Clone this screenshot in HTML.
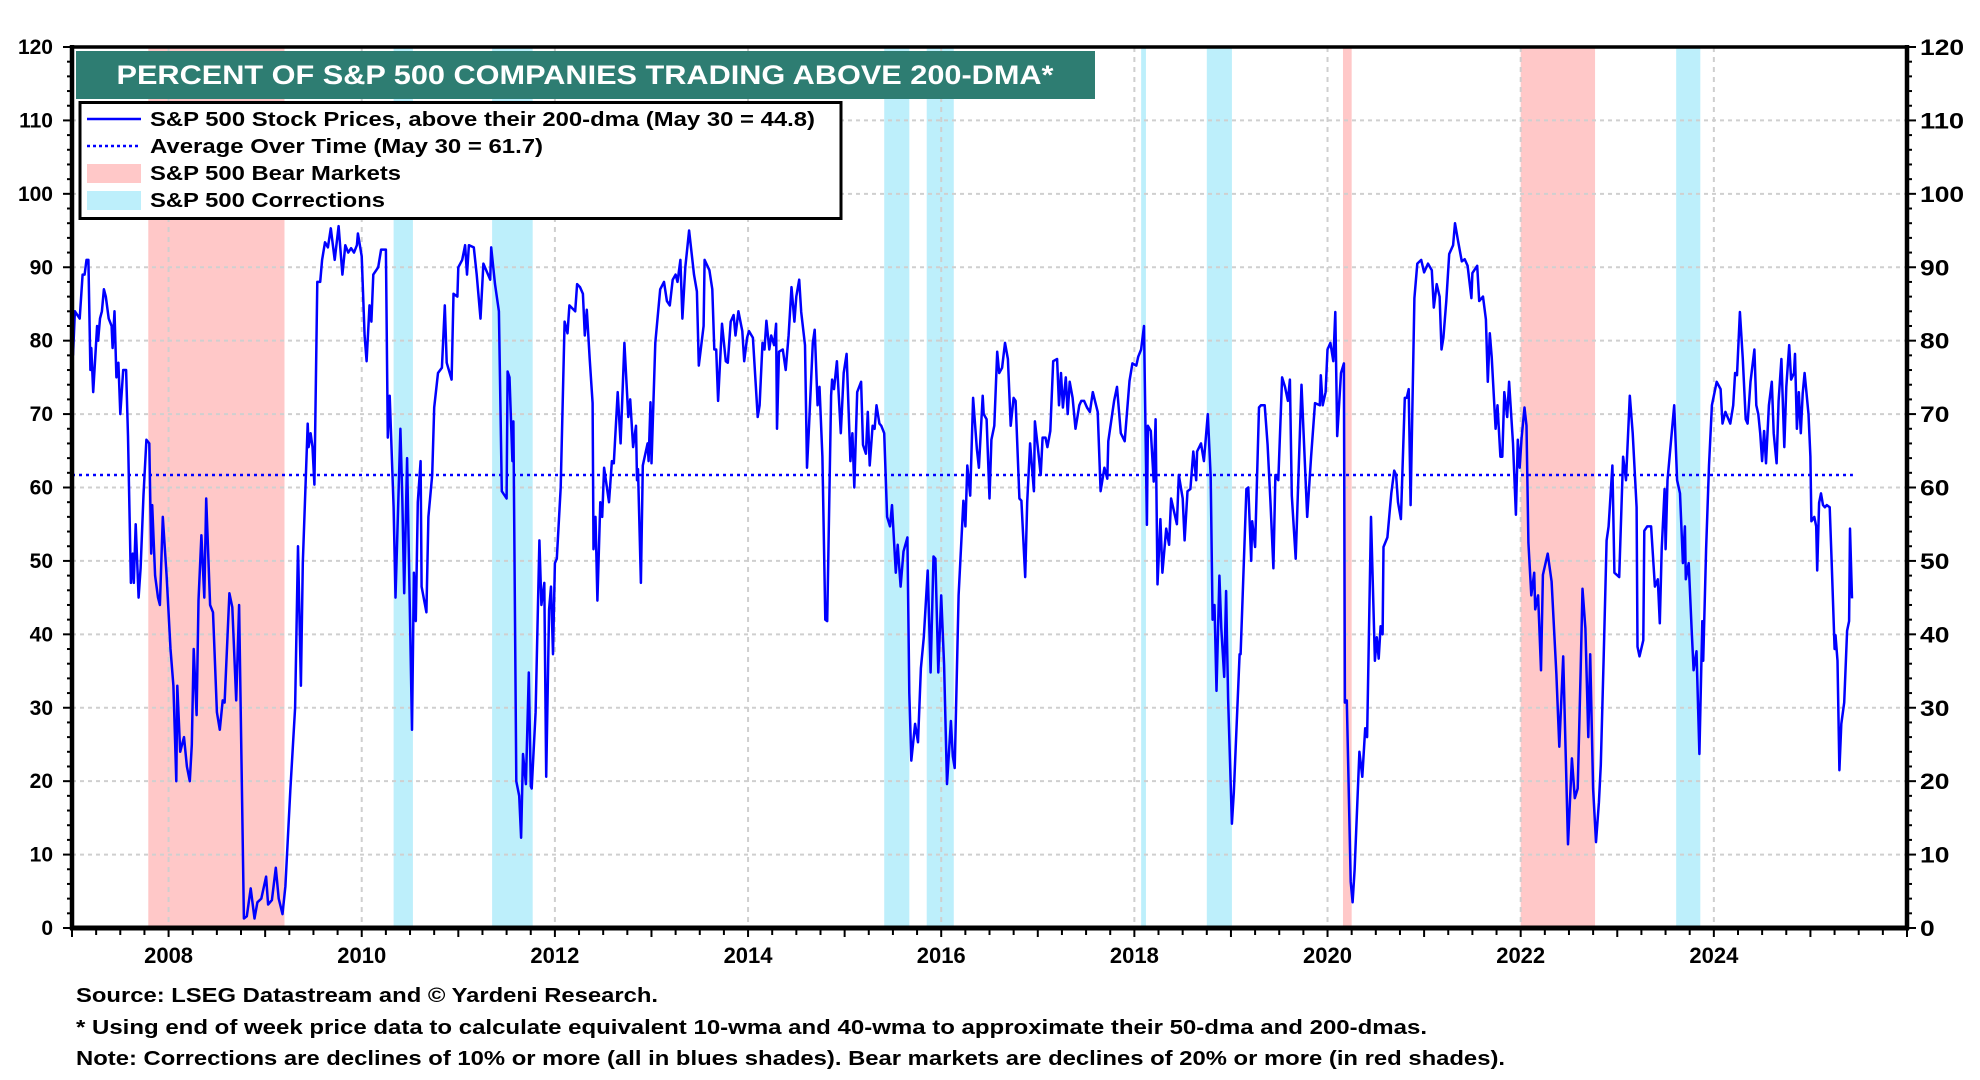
<!DOCTYPE html>
<html><head><meta charset="utf-8"><title>Percent of S&P 500 Companies Trading Above 200-DMA</title>
<style>html,body{margin:0;padding:0;background:#fff}svg{display:block}text{font-family:"Liberation Sans",Arial,sans-serif;font-weight:bold}</style>
</head><body>
<svg id="chart" width="1980" height="1080" viewBox="0 0 1980 1080" xmlns="http://www.w3.org/2000/svg">
<g id="shades"></g>
<g id="grid"></g>
<g id="avg"></g>
<g id="series"></g>
<g id="axes"></g>
<g>
<rect x="76" y="51" width="1019" height="48" fill="#2E7D72"/>
<text x="585" y="84" font-size="27" fill="#fff" text-anchor="middle" textLength="937" lengthAdjust="spacingAndGlyphs">PERCENT OF S&amp;P 500 COMPANIES TRADING ABOVE 200-DMA*</text>
</g>
<g>
<rect x="80" y="102.5" width="761" height="116" fill="#fff" stroke="#000" stroke-width="3"/>
<g><line x1="87" y1="119" x2="141" y2="119" stroke="#0000FF" stroke-width="2.5"/><text x="150" y="126" font-size="20" textLength="665" lengthAdjust="spacingAndGlyphs">S&amp;P 500 Stock Prices, above their 200-dma (May 30 = 44.8)</text></g>
<g><line x1="87" y1="146" x2="141" y2="146" stroke="#0000FF" stroke-width="2.5" stroke-dasharray="3,3"/><text x="150" y="153" font-size="20" textLength="393" lengthAdjust="spacingAndGlyphs">Average Over Time (May 30 = 61.7)</text></g>
<g><rect x="87" y="164" width="54" height="19" fill="#FFC8C8"/><text x="150" y="180" font-size="20" textLength="251" lengthAdjust="spacingAndGlyphs">S&amp;P 500 Bear Markets</text></g>
<g><rect x="87" y="191" width="54" height="19" fill="#BDEFFB"/><text x="150" y="207" font-size="20" textLength="235" lengthAdjust="spacingAndGlyphs">S&amp;P 500 Corrections</text></g>
</g>
<g>
<text x="76" y="1002" font-size="20" textLength="582" lengthAdjust="spacingAndGlyphs">Source: LSEG Datastream and © Yardeni Research.</text>
<text x="76" y="1034" font-size="20" textLength="1351" lengthAdjust="spacingAndGlyphs">* Using end of week price data to calculate equivalent 10-wma and 40-wma to approximate their 50-dma and 200-dmas.</text>
<text x="76" y="1065" font-size="20" textLength="1429" lengthAdjust="spacingAndGlyphs">Note: Corrections are declines of 10% or more (all in blues shades). Bear markets are declines of 20% or more (in red shades).</text>
</g>
</svg>
<script>
const yTicks=[0,10,20,30,40,50,60,70,80,90,100,110,120];
const xTickYears=[2008,2010,2012,2014,2016,2018,2020,2022,2024];
const bearStart=[2007.79,2020.16,2022.0];
const bearEnd=[2009.2,2020.25,2022.77];
const corrStart=[2010.33,2011.35,2015.41,2015.85,2018.07,2018.75,2023.61];
const corrEnd=[2010.53,2011.77,2015.67,2016.13,2018.12,2019.01,2023.86];
const avgValue=61.7;
const avgEndYear=2025.44;
const years=[2007.01,2007.03,2007.08,2007.11,2007.13,2007.15,2007.17,2007.19,2007.2,2007.22,2007.26,2007.27,2007.29,2007.31,2007.33,2007.35,2007.38,2007.41,2007.42,2007.44,2007.46,2007.48,2007.5,2007.53,2007.56,2007.58,2007.61,2007.63,2007.64,2007.66,2007.69,2007.71,2007.74,2007.77,2007.8,2007.82,2007.83,2007.86,2007.89,2007.91,2007.94,2007.98,2008.02,2008.05,2008.08,2008.09,2008.12,2008.16,2008.19,2008.22,2008.24,2008.26,2008.29,2008.31,2008.34,2008.37,2008.39,2008.41,2008.43,2008.46,2008.5,2008.53,2008.56,2008.58,2008.63,2008.66,2008.7,2008.73,2008.78,2008.81,2008.85,2008.89,2008.92,2008.96,2009.01,2009.03,2009.07,2009.11,2009.14,2009.18,2009.21,2009.26,2009.31,2009.34,2009.37,2009.39,2009.44,2009.45,2009.47,2009.49,2009.51,2009.54,2009.57,2009.59,2009.62,2009.65,2009.68,2009.72,2009.76,2009.8,2009.83,2009.86,2009.89,2009.92,2009.95,2009.96,2010.0,2010.03,2010.05,2010.08,2010.1,2010.12,2010.17,2010.2,2010.25,2010.27,2010.29,2010.33,2010.35,2010.4,2010.42,2010.44,2010.47,2010.52,2010.54,2010.56,2010.58,2010.61,2010.62,2010.67,2010.69,2010.73,2010.75,2010.79,2010.83,2010.86,2010.88,2010.93,2010.95,2010.99,2011.0,2011.04,2011.07,2011.09,2011.11,2011.16,2011.19,2011.23,2011.26,2011.33,2011.34,2011.38,2011.42,2011.45,2011.5,2011.51,2011.53,2011.56,2011.57,2011.6,2011.63,2011.65,2011.67,2011.7,2011.73,2011.75,2011.76,2011.8,2011.84,2011.86,2011.89,2011.91,2011.94,2011.96,2011.98,2012.0,2012.02,2012.06,2012.1,2012.13,2012.15,2012.21,2012.23,2012.26,2012.29,2012.31,2012.33,2012.36,2012.39,2012.4,2012.42,2012.44,2012.47,2012.49,2012.51,2012.56,2012.59,2012.61,2012.65,2012.68,2012.72,2012.76,2012.78,2012.81,2012.84,2012.85,2012.86,2012.89,2012.91,2012.96,2012.97,2012.99,2013.0,2013.04,2013.09,2013.13,2013.16,2013.19,2013.22,2013.25,2013.27,2013.3,2013.32,2013.35,2013.39,2013.44,2013.47,2013.49,2013.54,2013.55,2013.6,2013.63,2013.65,2013.67,2013.69,2013.73,2013.77,2013.79,2013.82,2013.85,2013.87,2013.9,2013.94,2013.96,2013.99,2014.01,2014.05,2014.1,2014.12,2014.15,2014.17,2014.19,2014.22,2014.24,2014.27,2014.29,2014.3,2014.32,2014.36,2014.39,2014.42,2014.45,2014.48,2014.5,2014.53,2014.55,2014.59,2014.61,2014.63,2014.67,2014.69,2014.72,2014.74,2014.77,2014.8,2014.82,2014.86,2014.87,2014.89,2014.92,2014.96,2014.99,2015.02,2015.06,2015.08,2015.1,2015.13,2015.17,2015.19,2015.22,2015.24,2015.26,2015.29,2015.31,2015.33,2015.36,2015.38,2015.41,2015.44,2015.47,2015.49,2015.53,2015.55,2015.58,2015.61,2015.65,2015.67,2015.69,2015.73,2015.76,2015.79,2015.82,2015.86,2015.89,2015.92,2015.94,2015.97,2016.0,2016.03,2016.06,2016.1,2016.12,2016.14,2016.18,2016.23,2016.25,2016.27,2016.3,2016.33,2016.37,2016.39,2016.43,2016.44,2016.47,2016.5,2016.52,2016.55,2016.58,2016.6,2016.63,2016.66,2016.69,2016.72,2016.75,2016.77,2016.81,2016.83,2016.87,2016.89,2016.92,2016.96,2016.97,2017.0,2017.03,2017.05,2017.08,2017.1,2017.13,2017.16,2017.2,2017.22,2017.24,2017.26,2017.29,2017.31,2017.33,2017.36,2017.39,2017.43,2017.45,2017.48,2017.51,2017.54,2017.57,2017.62,2017.65,2017.69,2017.72,2017.73,2017.77,2017.79,2017.82,2017.86,2017.9,2017.95,2017.98,2018.02,2018.04,2018.07,2018.1,2018.13,2018.14,2018.17,2018.2,2018.22,2018.24,2018.27,2018.29,2018.33,2018.36,2018.38,2018.44,2018.46,2018.5,2018.52,2018.55,2018.58,2018.61,2018.64,2018.65,2018.69,2018.72,2018.76,2018.79,2018.81,2018.83,2018.85,2018.88,2018.9,2018.93,2018.95,2018.97,2019.01,2019.03,2019.09,2019.1,2019.12,2019.16,2019.18,2019.21,2019.22,2019.25,2019.29,2019.31,2019.35,2019.38,2019.41,2019.44,2019.46,2019.49,2019.53,2019.56,2019.59,2019.61,2019.63,2019.67,2019.73,2019.79,2019.83,2019.87,2019.92,2019.93,2019.95,2019.98,2020.0,2020.03,2020.06,2020.08,2020.1,2020.14,2020.17,2020.18,2020.2,2020.24,2020.26,2020.28,2020.33,2020.36,2020.39,2020.41,2020.45,2020.49,2020.51,2020.53,2020.55,2020.57,2020.58,2020.62,2020.66,2020.69,2020.71,2020.73,2020.76,2020.8,2020.82,2020.84,2020.86,2020.9,2020.93,2020.97,2021.0,2021.04,2021.08,2021.1,2021.13,2021.16,2021.18,2021.2,2021.23,2021.26,2021.3,2021.32,2021.35,2021.39,2021.42,2021.45,2021.49,2021.5,2021.55,2021.57,2021.61,2021.64,2021.66,2021.68,2021.7,2021.74,2021.76,2021.79,2021.81,2021.83,2021.86,2021.88,2021.92,2021.95,2021.97,2021.99,2022.01,2022.04,2022.06,2022.08,2022.11,2022.14,2022.15,2022.18,2022.21,2022.23,2022.28,2022.32,2022.37,2022.4,2022.44,2022.49,2022.53,2022.56,2022.59,2022.62,2022.64,2022.67,2022.7,2022.72,2022.75,2022.78,2022.81,2022.83,2022.86,2022.89,2022.91,2022.95,2022.97,2023.02,2023.06,2023.09,2023.13,2023.16,2023.2,2023.21,2023.23,2023.27,2023.28,2023.31,2023.35,2023.39,2023.42,2023.44,2023.46,2023.49,2023.5,2023.52,2023.56,2023.59,2023.62,2023.65,2023.68,2023.7,2023.71,2023.74,2023.77,2023.79,2023.82,2023.85,2023.88,2023.89,2023.92,2023.95,2023.98,2024.03,2024.07,2024.09,2024.12,2024.17,2024.2,2024.22,2024.24,2024.27,2024.3,2024.33,2024.35,2024.38,2024.42,2024.44,2024.46,2024.48,2024.5,2024.52,2024.54,2024.57,2024.6,2024.62,2024.65,2024.67,2024.7,2024.73,2024.75,2024.78,2024.8,2024.83,2024.84,2024.86,2024.88,2024.9,2024.92,2024.94,2024.98,2025.0,2025.01,2025.04,2025.06,2025.07,2025.09,2025.11,2025.13,2025.15,2025.17,2025.2,2025.22,2025.25,2025.26,2025.28,2025.3,2025.32,2025.35,2025.38,2025.4,2025.41,2025.43];
const values=[78,84,83,89,89,91,91,76,79,73,82,80,83,84,87,86,83,82,79,84,75,77,70,76,76,67,47,51,47,55,45,49,59,66.5,66,51,57.6,48,45,44,56,48,38,33,20,33,24,26,22,20,25,38,29,44.6,53.5,45,58.5,51,44,43,29.4,27,31,30.7,45.6,43.7,31,44,1.3,1.6,5.4,1.3,3.5,4,7,3.2,3.8,8.2,4,1.9,5.7,18.7,30,52,33,49.7,68.7,65.5,67.4,65.5,60.4,88,88,91,93.4,92.7,95.3,91,95.6,89,93,92,92.6,92,93,94.6,91.5,80.7,77.2,84.8,82.6,89,90,92.4,92.4,66.8,72.5,57.3,45,68,58.5,45.6,64,27,48.4,41.8,58,63.6,46.5,43,56,61.7,70.9,75.6,76.3,84.8,77,74.7,86.4,86,90,91,93,89,93,92.7,89,83,90.5,88.3,92.7,87.7,84,59.5,58.5,75.8,75,63.6,69,20,18,12.3,23.7,19.6,34.8,19.3,19,29.4,52.8,44,47,20.6,43.4,46.5,37.3,49.7,50.3,60,82.6,81,84.8,84,87.7,87.3,86.4,80.7,84.2,77.5,71.5,51.6,56,44.6,58,56,62.7,58,63.6,63.3,73,66,79.7,69.6,72,65.5,68.4,61,62.5,47,63,66,63.6,71.6,63.3,79.7,87,88,85.4,84.8,88.3,89,88,91,83,90,95,89,86.7,76.6,82,91,89.6,87,78.8,78.8,71.8,82.3,77.2,77,82.6,83.5,80.7,84,81.3,77.2,80.4,81.3,80.4,69.6,71.2,79.7,78.8,82.7,78.8,80.7,79.4,82.3,68,78.5,78.8,76,80.7,87.3,82.6,86,88.3,83.9,79.4,62.7,68,79.7,81.5,71.2,73.7,64.2,42,41.8,72.5,74.7,73.4,77.2,67.4,75.6,78.2,63.6,67.4,60,73,74.4,65.8,64.6,70.3,63,68.4,68,71.2,68.7,68.4,67.4,56,54.7,57.6,48.4,52.2,46.5,51.3,53.2,32,22.8,27.8,25.3,35.4,39.6,48.7,34.8,50.6,50.3,34.8,45.3,35.8,19.6,28.2,23.4,21.8,45.3,58.2,54.7,63,58.9,72.2,65.2,62.7,72.5,70,69.3,58.5,66.5,68.4,78.5,75.6,76.3,79.7,77.5,68.4,72.2,71.8,58.5,58.2,47.8,58,66,59.5,69,65.5,61.7,66.8,66.8,65.5,67.7,77.2,77.5,71.2,75.6,70.9,75,70,74.4,72.2,68,71.2,71.8,71.8,70.9,70.3,73,70.3,59.5,62.7,61.2,66.3,70,71.8,73.7,67.4,66.3,74.5,76.9,76.6,77.8,78.8,82,54.9,68.4,67.7,60.8,69.3,46.8,55.7,48.4,54.4,52.2,58.5,55,61.7,58.5,52.8,59.5,59.8,64.9,61,64.9,66,63.6,70,61.4,42,44,32.3,48,40.8,34.2,45.9,31.3,14.2,18.4,37.3,37.3,44.6,59.8,60,50,55.4,51.9,70.9,71.2,71.2,65.8,57.9,49,61.7,61,75,73.7,71.8,74.7,58.9,50.3,74,56,64.2,71.5,71.2,75.3,71.2,73,78.8,79.7,77.2,83.9,67,75.6,76.9,30.7,31,6.3,3.5,7.9,24,20.6,27.2,26,56,36.4,39.6,36.7,41.1,40,51.9,53.2,59.2,62.3,61.7,58,55.7,72.2,72.2,73.4,57.6,85.8,90.5,91,89.3,90.5,89.6,84.5,87.7,86,78.8,80.4,85.4,91.8,93,96,93.7,90.8,91.1,90.2,85.8,89.2,90.2,85.4,86,82.9,74.4,81,77.8,68,71.2,64.2,64.2,73,69.6,74.4,66,56.3,66.5,62.7,66.8,70.9,68.4,52.5,45.3,48.4,43.4,45.3,35.1,48.1,51,47.2,34.5,24.7,37,11.4,23.1,17.7,19,34.8,46.2,40.8,26,37.3,19,11.7,17.1,22.2,37,52.8,54.7,63,48.4,47.8,64.2,61,72.5,67.4,57.3,38.3,37,39.2,54.1,54.7,54.7,46.5,47.5,41.5,51.6,59.8,51.6,61,66.8,71.2,61,59.2,49.7,54.7,47.5,49.7,40.8,35.1,37.7,23.7,41.8,36.4,51.6,63,71.2,74.4,73.4,68.7,70.3,68.7,71.2,75.6,75.3,83.9,77.5,69.3,68.7,74.4,78.8,71.2,70,67.4,63.6,67.7,63.3,71.2,74.4,67.4,63.3,71.8,77.5,65.5,73.7,79.4,74.7,75.6,78.2,68,73,67.4,72.8,75.6,70,64.2,55.4,56,54.7,48.7,57.9,59.2,57.6,57.3,57.6,57.3,49.7,38,39.9,36.4,21.5,27.8,30.7,40.5,41.8,54.4,44.9];

const NS='http://www.w3.org/2000/svg';
const L=72,R=1907,T=47,B=928,X0=2007,X1=2026,YMAX=120;
function xs(yr){return L+(yr-X0)/(X1-X0)*(R-L);}
function ys(v){return B-v/YMAX*(B-T);}
function mk(tag,attrs,parent){const e=document.createElementNS(NS,tag);for(const k in attrs)e.setAttribute(k,attrs[k]);parent.appendChild(e);return e;}
const gS=document.getElementById('shades'),gG=document.getElementById('grid'),gA=document.getElementById('avg'),gL=document.getElementById('series'),gX=document.getElementById('axes');

for(let i=0;i<bearStart.length;i++){
  const r=mk('rect',{x:xs(bearStart[i]),y:T,width:xs(bearEnd[i])-xs(bearStart[i]),height:B-T,fill:'#FFC8C8'},gS);
  
  
}
for(let i=0;i<corrStart.length;i++){
  const r=mk('rect',{x:xs(corrStart[i]),y:T,width:xs(corrEnd[i])-xs(corrStart[i]),height:B-T,fill:'#BDEFFB'},gS);
  
  
}
yTicks.forEach(v=>{
  if(v>0&&v<YMAX){
    const g=mk('line',{x1:L,x2:R,y1:ys(v),y2:ys(v),stroke:'#cfcfcf','stroke-width':2,'stroke-dasharray':'4,4'},gG);
    
    
  }
  const tl=mk('text',{x:53,y:ys(v)+7,'font-size':21,'text-anchor':'end'},gX);tl.textContent=String(v);
  
  
  const s=String(v);
  const tr=mk('text',{x:1920,y:ys(v)+8,'font-size':22,'font-family':'DejaVu Sans, sans-serif',textLength:s.length*14.7,lengthAdjust:'spacingAndGlyphs'},gX);tr.textContent=s;
  
  
});
for(let v=0;v<=YMAX;v+=2){
  const major=v%10===0,len=major?9:5;
  mk('line',{x1:L-len,x2:L,y1:ys(v),y2:ys(v),stroke:'#000','stroke-width':2},gX);
  mk('line',{x1:R,x2:R+len,y1:ys(v),y2:ys(v),stroke:'#000','stroke-width':2},gX);
}
xTickYears.forEach(yr=>{
  const g=mk('line',{x1:xs(yr),x2:xs(yr),y1:T,y2:B,stroke:'#cfcfcf','stroke-width':2,'stroke-dasharray':'5,5'},gG);
  
  
  const t=mk('text',{x:xs(yr),y:963,'font-size':22,'text-anchor':'middle'},gX);t.textContent=String(yr);
  
  
});
for(let q=X0*4;q<=X1*4;q++){
  const yr=q/4;
  mk('line',{x1:xs(yr),x2:xs(yr),y1:B,y2:B+(q%4===0?9:7),stroke:'#000','stroke-width':2},gX);
}
const av=mk('line',{x1:L,x2:xs(avgEndYear),y1:ys(avgValue),y2:ys(avgValue),stroke:'#0000FF','stroke-width':2.5,'stroke-dasharray':'3,4'},gA);


let d='';
for(let i=0;i<years.length;i++){d+=(i?'L':'M')+xs(years[i]).toFixed(1)+','+ys(values[i]).toFixed(1);}
const p=mk('path',{d:d,fill:'none',stroke:'#0000FF','stroke-width':2.5,'stroke-linejoin':'round'},gL);


const fr=mk('path',{d:`M${L},${T}L${R},${T}`,stroke:'#000','stroke-width':3.5,fill:'none'},gX);


const la=mk('line',{x1:L,x2:L,y1:T-2,y2:B+2,stroke:'#000','stroke-width':4.5},gX);


const ra=mk('line',{x1:R,x2:R,y1:T-2,y2:B+2,stroke:'#000','stroke-width':4.5},gX);


const ba=mk('line',{x1:L-2,x2:R+2,y1:B,y2:B,stroke:'#000','stroke-width':5},gX);


</script>
</body></html>
